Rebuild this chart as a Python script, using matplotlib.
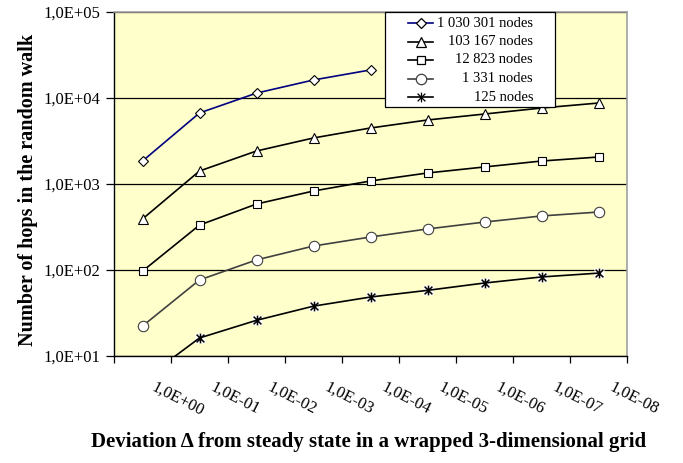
import numpy as np
import matplotlib.pyplot as plt
from matplotlib.lines import Line2D
from matplotlib.patches import Rectangle
from matplotlib.path import Path
from matplotlib.transforms import ScaledTranslation
from matplotlib.ticker import FixedLocator, FuncFormatter, NullLocator

plt.rcParams['font.family'] = ['Liberation Serif', 'DejaVu Serif']

# deviation categories (x axis)
x_labels = ['1,0E+00', '1,0E-01', '1,0E-02', '1,0E-03', '1,0E-04',
            '1,0E-05', '1,0E-06', '1,0E-07', '1,0E-08']

# number of hops per grid size
hops_1030301 = [1850, 6700, 11400, 16200, 21200]
hops_103167 = [392, 1416, 2420, 3430, 4480, 5550, 6510, 7650, 8740]
hops_12823 = [97, 333, 585, 829, 1084, 1343, 1578, 1850, 2060]
hops_1331 = [22.3, 76.6, 131, 190, 242, 300, 361, 425, 472]
hops_125 = [5.2, 16.2, 26, 38, 48.5, 58, 70.6, 83, 92]

series_names = ['1 030 301 nodes', '103 167 nodes', '12 823 nodes',
                '1 331 nodes', '125 nodes']


def sci_label(v, pos):
    return f"1,0E+{int(round(np.log10(v))):02d}"


# excel style asterisk: an X with a vertical bar through it
star = Path([(0, -1), (0, 1), (-0.8, -0.8), (0.8, 0.8), (-0.8, 0.8), (0.8, -0.8)],
            [Path.MOVETO, Path.LINETO] * 3)

W, H = 683, 463
fig = plt.figure(figsize=(W / 100, H / 100), dpi=100)
ax = fig.add_axes([114 / W, 1 - 356 / H, 513 / W, 344 / H])
ax.set_facecolor('#FFFFCC')

x = np.arange(len(x_labels))

styles = [
    dict(color='#000080', marker='D', ms=5.5, mfc='white', mec='black'),
    dict(color='black', marker='^', ms=7, mfc='white', mec='black'),
    dict(color='black', marker='s', ms=5.5, mfc='white', mec='black'),
    dict(color='#404040', marker='o', ms=7.5, mfc='white', mec='#404040'),
    dict(color='black', marker=star, ms=7, mfc='none', mec='black'),
]

ax.plot(x[:len(hops_1030301)], hops_1030301, lw=1.2, mew=0.8, zorder=4,
        **styles[0])
ax.plot(x, hops_103167, lw=1.2, mew=0.8, zorder=4, **styles[1])
ax.plot(x, hops_12823, lw=1.2, mew=0.8, zorder=4, **styles[2])
ax.plot(x, hops_1331, lw=1.2, mew=0.8, zorder=4, **styles[3])
# white box behind the asterisks
ax.plot(x, hops_125, ls='none', marker='s', ms=7, mfc='white', mec='none',
        zorder=4.5)
ax.plot(x, hops_125, lw=1.2, mew=1.1, zorder=5, **styles[4])

ax.set_yscale('log')
ax.set_ylim(10, 1e5)
ax.set_xlim(-0.5, len(x_labels) - 0.5)
ax.yaxis.set_major_locator(FixedLocator([1e1, 1e2, 1e3, 1e4, 1e5]))
ax.yaxis.set_major_formatter(FuncFormatter(sci_label))
ax.yaxis.set_minor_locator(NullLocator())
ax.grid(True, axis='y', color='black', lw=0.9)
ax.set_axisbelow(True)

ax.set_xticks(np.arange(-0.5, len(x_labels)), [''] + x_labels)
ax.tick_params(axis='x', direction='out', length=5, width=0.9, pad=12,
               labelsize=12)
ax.tick_params(axis='y', direction='out', length=6, width=0.9, pad=4,
               labelsize=12)
offset = ScaledTranslation(5 / 72, 0, fig.dpi_scale_trans)
for t in ax.get_xticklabels():
    t.set_rotation(-27)
    t.set_ha('center')
    t.set_va('top')
    t.set_transform(t.get_transform() + offset)

for s in ['left', 'bottom']:
    ax.spines[s].set_color('black')
    ax.spines[s].set_linewidth(1.0)
for s in ['top', 'right']:
    ax.spines[s].set_color('#A0A0A0')
    ax.spines[s].set_linewidth(1.2)

fig.text(28 / W, 1 - 190 / H, 'Number of hops in the random walk',
         fontsize=14.5, fontweight='bold', rotation=90,
         ha='center', va='center')
fig.text(0.54, 1 - 442 / H,
         'Deviation \u0394 from steady state in a wrapped 3-dimensional grid',
         fontsize=15, fontweight='bold', ha='center', va='center')


# legend drawn by hand so the labels can be right-aligned like the original
def ax_xy(px, py):
    return (px - 114) / 513, (356 - py) / 344


x0, y0 = ax_xy(385, 107)
x1, y1 = ax_xy(555, 12)
ax.add_patch(Rectangle((x0, y0), x1 - x0, y1 - y0, transform=ax.transAxes,
                       facecolor='white', edgecolor='black', lw=0.9,
                       zorder=10, clip_on=False))
row_y = [23.3, 41.7, 60, 79, 97.3]
for name, st, py in zip(series_names, styles, row_y):
    hx0, hy = ax_xy(408, py)
    hx1, _ = ax_xy(433, py)
    hm, _ = ax_xy(420.5, py)
    ax.add_line(Line2D([hx0, hx1], [hy, hy], transform=ax.transAxes,
                       color=st['color'], lw=1.2, zorder=11, clip_on=False))
    ax.add_line(Line2D([hm], [hy], transform=ax.transAxes, ls='none',
                       marker=st['marker'], ms=st['ms'],
                       mfc=st['mfc'], mec=st['mec'], mew=0.9,
                       zorder=12, clip_on=False))
    tx, _ = ax_xy(533, py)
    ax.text(tx, hy, name, transform=ax.transAxes, ha='right', va='center',
            fontsize=10.5, zorder=12)

plt.savefig('out.png', dpi=100)
plt.close()
